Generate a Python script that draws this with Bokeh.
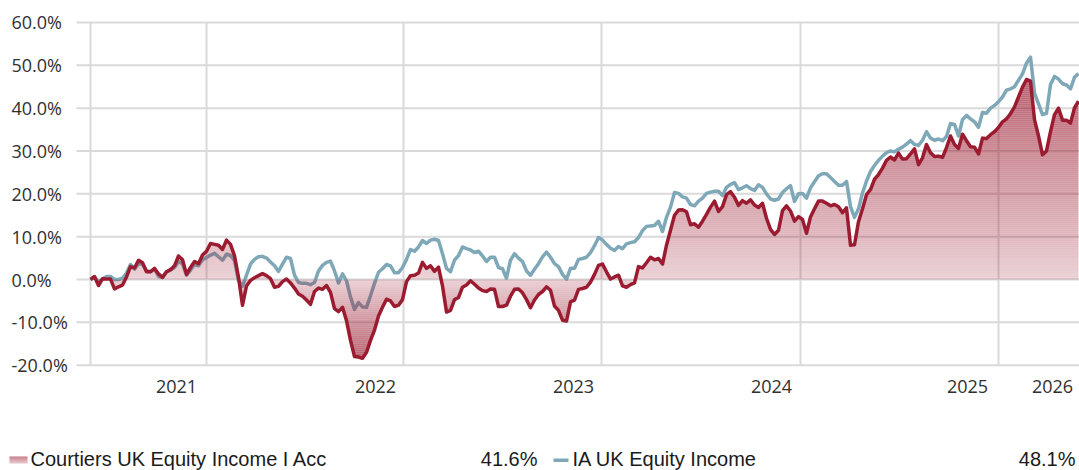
import numpy as np
from bokeh.plotting import figure
from bokeh.models import Range1d, FixedTicker
from bokeh.layouts import column
from bokeh.embed import file_html
from bokeh.resources import INLINE
from bokeh.core.properties import value

# ---------------- data (cumulative performance, %) ----------------
fund = [
    0.0, 0.7, -1.4, 0.2, 0.1, 0.1, -2.2, -1.7, -1.3, 0.6,
    3.0, 2.7, 4.5, 3.9, 1.8, 1.8, 2.6, 1.3, 0.5, 1.8,
    2.3, 3.2, 5.5, 4.6, 1.2, 2.8, 4.2, 3.7, 5.7, 6.6,
    8.4, 8.2, 8.0, 7.0, 9.2, 8.2, 5.5, 0.5, -6.0, -1.5,
    -0.2, 0.4, 0.9, 1.4, 0.9, 0.2, -1.8, -1.6, -0.5, 0.1,
    -0.8, -2.0, -3.4, -3.9, -4.8, -5.8, -2.8, -2.0, -2.3, -1.4,
    -3.0, -6.8, -7.5, -6.5,
    -9.6, -14.2, -18.0, -18.1, -18.4, -17.0, -14.2, -11.8, -8.5, -6.5,
    -4.6, -5.0, -6.3, -6.0, -4.7, -0.5, 0.9, 1.0, 1.5, 4.0,
    2.6, 3.2, 1.9, 2.9, -1.5, -7.6, -7.2, -4.7, -4.2, -1.8,
    -1.3, -0.3, -1.1, -2.0, -2.6, -2.8, -2.2, -2.3, -6.3, -6.3,
    -6.0, -3.9, -2.3, -2.2, -3.1, -4.7, -6.6, -4.8, -3.5, -2.8,
    -1.7, -2.5, -6.2, -7.2, -9.5, -9.7, -5.2, -4.8, -2.3, -2.1,
    -1.8, -0.6, 1.2, 3.3,
    3.6, 1.8, 0.1, 0.6, 1.0, -1.5, -1.8, -1.2, -0.8, 3.0,
    2.7, 3.9, 5.2, 4.6, 4.9, 3.6, 8.0, 11.5, 15.0, 16.2,
    16.3, 15.8, 12.8, 13.0, 12.2, 13.6, 15.2, 16.9, 18.3, 15.9,
    17.0, 19.8, 20.5, 19.2, 17.3, 18.4, 17.8, 18.6, 17.4, 16.8,
    17.8, 14.3, 11.7, 10.5, 11.5, 16.1, 17.2, 16.0, 13.6, 14.7,
    14.0, 10.8, 14.6, 16.5, 18.3, 18.3, 17.8, 17.2, 17.5, 17.0,
    15.6, 16.7, 8.0,
    8.1, 13.5, 16.5, 19.8, 21.0, 23.4, 24.5, 26.0, 27.8, 28.6,
    27.9, 29.5, 28.1, 28.2, 29.3, 30.5, 26.8, 28.4, 31.5, 29.6,
    28.7, 28.8, 28.5, 30.8, 33.5, 31.5, 30.6, 33.9, 32.4, 31.0,
    30.9, 29.3, 33.0, 32.9, 33.8, 34.5, 35.5, 36.8, 37.5, 38.7,
    40.3, 42.6, 44.9, 46.7, 46.3, 37.3, 33.5, 29.1, 30.0, 34.5,
    38.5, 40.0, 37.2, 37.2, 36.5, 40.1, 41.6,
]

sector = [
    0.0, 0.5, -0.5, 0.1, 0.7, 0.7, 0.0, 0.0, 0.3, 1.5,
    3.5, 2.4, 3.7, 3.6, 2.1, 1.8, 2.5, 0.7, 0.5, 1.8,
    2.2, 2.8, 4.2, 3.7, 1.0, 2.2, 3.5, 3.2, 4.6, 5.1,
    5.7, 6.1, 5.3, 4.5, 5.9, 5.6, 4.4, -0.3, -1.6, 1.0,
    3.6, 4.7, 5.3, 5.4, 5.0, 4.1, 3.2, 1.9, 3.6, 5.2,
    4.9, 1.0, -0.7, -0.9, -0.9, -1.2, -0.7, 2.0, 3.3, 4.0,
    4.3, 2.0, -0.8, 1.3,
    -0.3, -4.1, -7.0, -5.4, -6.4, -6.5, -3.8, -0.9, 1.7, 2.5,
    3.5, 3.2, 1.6, 1.6, 2.8, 4.7, 7.0, 6.6, 7.6, 9.1,
    8.4, 9.2, 9.4, 9.1, 6.0, 2.6, 1.8, 4.5, 5.6, 7.6,
    7.2, 6.9, 6.3, 6.6, 5.5, 4.2, 5.2, 5.2, 2.8, 2.5,
    0.3, 4.5, 6.0, 5.0, 4.2, 2.0, 1.0, 2.4, 3.7, 5.3,
    6.4, 5.2, 3.7, 3.0, 1.2, 0.1, 2.6, 2.6, 4.7, 4.9,
    5.2, 6.3, 7.9, 9.8,
    9.2, 8.2, 7.3, 6.8, 7.7, 7.2, 8.3, 8.6, 8.8, 9.8,
    11.4, 12.4, 12.5, 12.6, 13.6, 11.2, 14.5, 16.9, 20.3, 20.1,
    19.3, 19.0, 17.5, 17.2, 18.3, 19.0, 20.1, 20.4, 20.6, 20.6,
    19.6, 21.5, 22.2, 22.6, 21.0, 21.4, 21.9, 21.2, 20.8, 22.1,
    21.5, 20.0, 18.8, 18.5, 18.8, 20.3, 21.2, 21.9, 18.2, 20.0,
    20.1, 19.0, 21.4, 22.8, 24.2, 24.7, 24.7, 23.8, 22.9, 22.0,
    22.0, 22.9, 17.0,
    14.5, 16.5, 20.2, 23.0, 25.2, 26.6, 27.8, 28.8, 29.6, 30.0,
    29.8, 30.4, 30.9, 31.6, 32.4, 31.5, 31.3, 32.5, 34.5, 33.0,
    32.5, 32.8, 32.4, 33.4, 36.4, 36.2, 33.5, 37.3, 38.3, 37.5,
    36.8, 35.5, 39.0, 38.8, 40.0, 40.6, 41.5, 42.6, 44.2, 44.5,
    45.0, 46.5, 48.0, 50.5, 51.9, 43.5, 41.0, 38.5, 38.8, 45.5,
    47.4, 46.8, 45.7, 45.4, 44.5, 47.2, 48.1,
]

year_labels = ["2021", "2022", "2023", "2024", "2025", "2026"]
year_label_pos = [21.5, 71.25, 120.75, 170.25, 219.25, 240.5]
year_grid_pos = [0, 29, 78.25, 127.75, 177.5, 227]
y_ticks = [-20, -10, 0, 10, 20, 30, 40, 50, 60]

legend_names = ["Courtiers UK Equity Income I Acc", "IA UK Equity Income"]
legend_values = ["41.6%", "48.1%"]

# ---------------- styling / layout ----------------
RED = "#9b1b30"
BLUE = "#7ea8b8"
GRID = "#dadada"
TXT = "#303030"

W = 1079
PX_PER_PCT = 4.284       # vertical scale
PX_PER_STEP = 4.0        # horizontal scale (per observation)
DATA_LEFT_PX = 90        # first observation
PLOT_LEFT_PX = 76        # start of horizontal gridlines
LABEL_LEFT_PX = 11       # left edge of y labels
FRAME_H = 373
ZERO_PX = 94             # distance of 0% from frame bottom

y_start = -ZERO_PX / PX_PER_PCT
y_end = (FRAME_H - ZERO_PX) / PX_PER_PCT
x_start = -DATA_LEFT_PX / PX_PER_STEP
x_end = (W - DATA_LEFT_PX) / PX_PER_STEP
x_plot_left = (PLOT_LEFT_PX - DATA_LEFT_PX) / PX_PER_STEP
x_label = (LABEL_LEFT_PX - DATA_LEFT_PX) / PX_PER_STEP

x = list(range(len(fund)))

p = figure(width=W, height=440, output_backend="svg", toolbar_location=None,
           x_range=Range1d(x_start, x_end), y_range=Range1d(y_start, y_end),
           y_axis_type=None, min_border_left=0, min_border_right=0,
           min_border_top=0, min_border_bottom=440 - FRAME_H)
p.outline_line_color = None
p.xgrid.visible = False

# gridlines
p.segment(x0=[x_plot_left] * len(y_ticks), x1=[x_end] * len(y_ticks), y0=y_ticks, y1=y_ticks,
          line_color=GRID, line_width=2, level="underlay")
p.segment(x0=year_grid_pos, x1=year_grid_pos, y0=[min(y_ticks)] * len(year_grid_pos),
          y1=[max(y_ticks)] * len(year_grid_pos), line_color=GRID, line_width=2, level="underlay")

# x axis
p.xaxis.ticker = FixedTicker(ticks=year_label_pos)
p.xaxis.major_label_overrides = {pos: lab for pos, lab in zip(year_label_pos, year_labels)}
p.xaxis.axis_line_color = None
p.xaxis.major_tick_line_color = None
p.xaxis.minor_tick_line_color = None
p.xaxis.major_label_standoff = 0
p.xaxis.major_label_text_font = "Open Sans"
p.xaxis.major_label_text_font_size = "18px"
p.xaxis.major_label_text_color = TXT

# y labels (left aligned)
p.text(x=[x_label] * len(y_ticks), y=y_ticks, text=[f"{v:.1f}%" for v in y_ticks],
       text_align="left", text_baseline="middle", text_font=value("Open Sans"),
       text_font_size="18px", text_color=TXT)

# sector line (under the fund fill)
p.line(x, sector, line_color=BLUE, line_width=3.5, line_join="round")


def band_poly(xs, ys, lo, hi):
    bx, by = [], []
    for i in range(len(xs)):
        if i > 0:
            x0, y0, x1, y1 = xs[i - 1], ys[i - 1], xs[i], ys[i]
            ts = []
            for lev in (lo, hi):
                if (y0 - lev) * (y1 - lev) < 0:
                    ts.append((lev - y0) / (y1 - y0))
            for t in sorted(ts):
                bx.append(x0 + t * (x1 - x0))
                by.append(min(max(y0 + t * (y1 - y0), lo), hi))
        bx.append(xs[i])
        by.append(min(max(ys[i], lo), hi))
    return bx, by


# gradient fill between the fund line and 0%
STEP = 2 / PX_PER_PCT
pmax = max(fund)
nmin = min(fund)
for j in range(int(np.ceil(pmax / STEP))):
    lo, hi = j * STEP, (j + 1) * STEP
    bx, by = band_poly(x, fund, lo, hi)
    a = 0.2 + 0.5 * min((lo + hi) / 2, pmax) / pmax
    p.varea(x=bx, y1=[lo] * len(bx), y2=by, fill_color=RED, fill_alpha=a)
for j in range(int(np.ceil(-nmin / STEP))):
    hi, lo = -j * STEP, -(j + 1) * STEP
    bx, by = band_poly(x, fund, lo, hi)
    a = 0.2 + 0.5 * min(-(lo + hi) / 2, -nmin) / (-nmin)
    p.varea(x=bx, y1=by, y2=[hi] * len(bx), fill_color=RED, fill_alpha=a)

p.line(x, fund, line_color=RED, line_width=3.5, line_join="round")

# ---------------- legend strip ----------------
lg = figure(width=W, height=30, output_backend="svg", toolbar_location=None,
            x_range=Range1d(0, W), y_range=Range1d(0, 30),
            x_axis_type=None, y_axis_type=None, min_border=0,
            min_border_left=0, min_border_right=0, min_border_top=0, min_border_bottom=0)
lg.outline_line_color = None
rows = list(range(7))
lg.quad(left=[9] * 7, right=[27] * 7, top=[14 - r for r in rows], bottom=[13 - r for r in rows],
        fill_color=RED, fill_alpha=[0.62 - 0.06 * r for r in rows], line_color=None)
lg.quad(left=[553], right=[568], top=[12], bottom=[8.5], fill_color=BLUE, line_color=None)
lg.text(x=[30, 572], y=[11.5, 11.5], text=legend_names, text_font=value("Liberation Sans"),
        text_font_size="20px", text_baseline="middle", text_align="left", text_color="#1a1a1a")
lg.text(x=[537, 1075], y=[11.5, 11.5], text=legend_values, text_font=value("Liberation Sans"),
        text_font_size="20px", text_baseline="middle", text_align="right", text_color="#1a1a1a")

layout = column(p, lg, spacing=0)
open("out.html", "w").write(file_html(layout, INLINE))
